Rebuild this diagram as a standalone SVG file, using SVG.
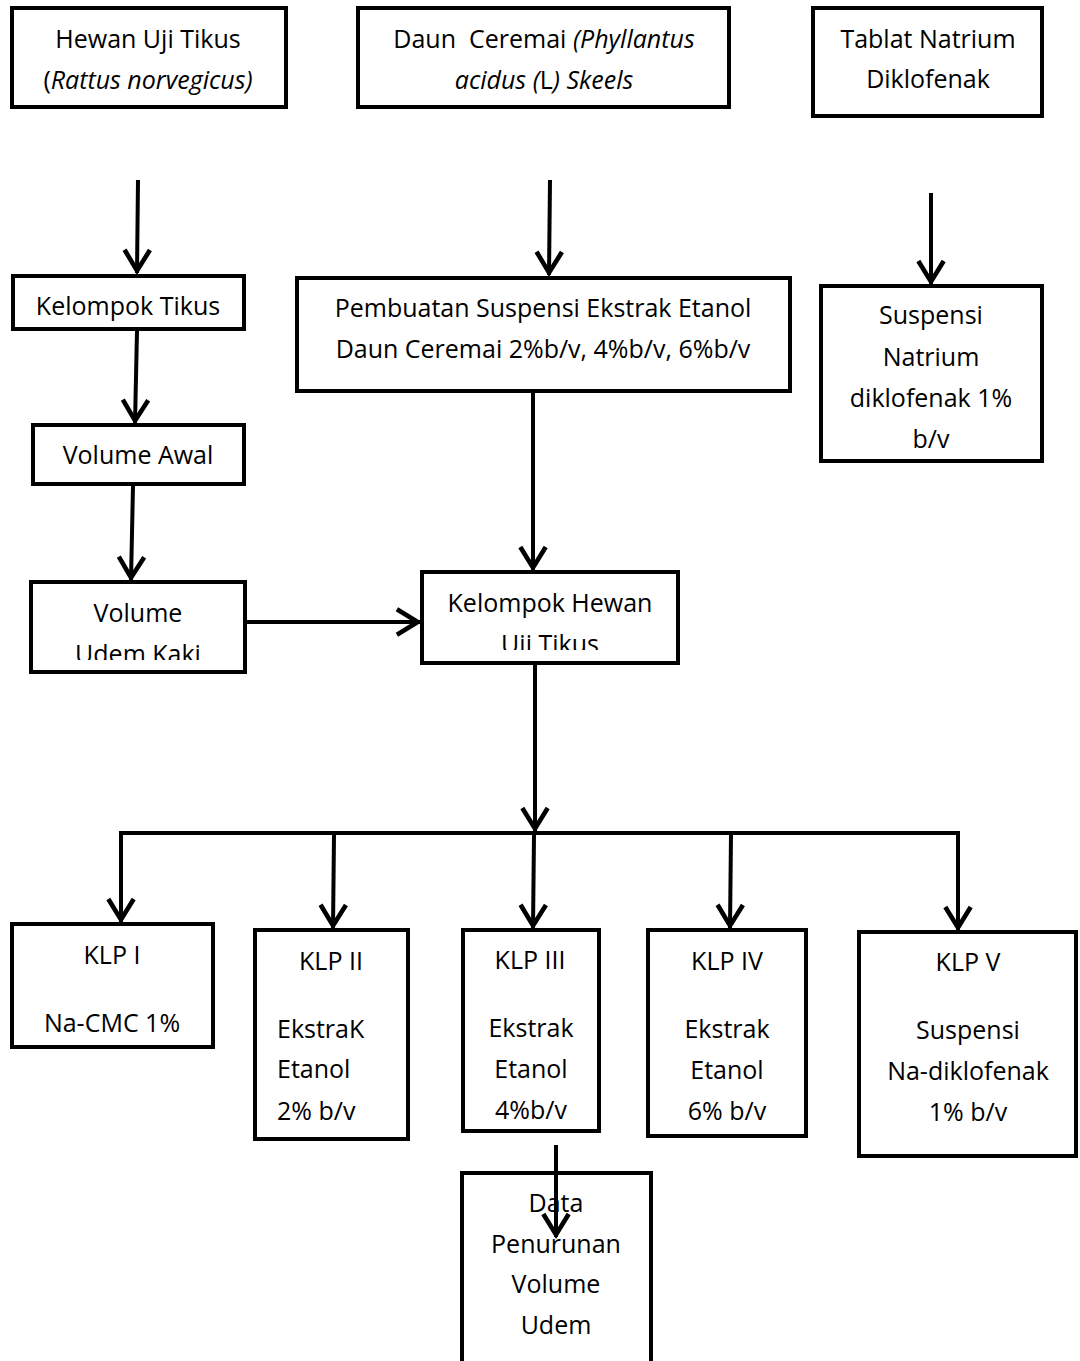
<svg xmlns="http://www.w3.org/2000/svg" width="1080" height="1361" viewBox="0 0 1080 1361">
<style>
.box{fill:#fff;stroke:#000;stroke-width:4;}
.t{font-family:"Open Sans","Noto Sans",sans-serif;font-size:25px;fill:#000;text-anchor:middle;}
.l{text-anchor:start;}
.i{font-style:italic;}
.c{fill:none;stroke:#000;stroke-width:4;}
.a{marker-end:url(#ah);}
</style>
<defs>
<marker id="ah" markerUnits="userSpaceOnUse" markerWidth="30" markerHeight="30" viewBox="0 0 26 24" refX="22" refY="12" orient="auto">
<path d="M2,1 L20,12 L2,23" fill="none" stroke="#000" stroke-width="4"/>
</marker>
<clipPath id="clipH"><rect x="0" y="560" width="300" height="100"/></clipPath>
<clipPath id="clipI"><rect x="400" y="560" width="300" height="90"/></clipPath>
</defs>
<rect width="1080" height="1361" fill="#fff"/>
<g id="n-hewan"><rect class="box" x="12" y="8" width="274" height="99"/>
<text class="t" x="148" y="48">Hewan Uji Tikus</text>
<text class="t" x="148" y="89">(<tspan class="i">Rattus norvegicus)</tspan></text></g>
<g id="n-daun"><rect class="box" x="358" y="8" width="371" height="99"/>
<text class="t" x="544" y="48" xml:space="preserve">Daun  Ceremai <tspan class="i">(Phyllantus</tspan></text>
<text class="t" x="544" y="89"><tspan class="i">acidus (</tspan>L<tspan class="i">) Skeels</tspan></text></g>
<g id="n-tablet"><rect class="box" x="813" y="8" width="229" height="108"/>
<text class="t" x="928" y="48">Tablat Natrium</text>
<text class="t" x="928" y="88">Diklofenak</text></g>
<g id="n-kelompok"><rect class="box" x="13" y="276" width="231" height="53"/>
<text class="t" x="128" y="315">Kelompok Tikus</text></g>
<g id="n-pembuatan"><rect class="box" x="297" y="278" width="493" height="113"/>
<text class="t" x="543" y="317">Pembuatan Suspensi Ekstrak Etanol</text>
<text class="t" x="543" y="358">Daun Ceremai 2%b/v, 4%b/v, 6%b/v</text></g>
<g id="n-suspensi"><rect class="box" x="821" y="286" width="221" height="175"/>
<text class="t" x="931" y="324">Suspensi</text>
<text class="t" x="931" y="366">Natrium</text>
<text class="t" x="931" y="407">diklofenak 1%</text>
<text class="t" x="931" y="448">b/v</text></g>
<g id="n-awal"><rect class="box" x="33" y="425" width="211" height="59"/>
<text class="t" x="138" y="464">Volume Awal</text></g>
<g id="n-udem"><rect class="box" x="31" y="582" width="214" height="90"/>
<g clip-path="url(#clipH)"><text class="t" x="138" y="622">Volume</text>
<text class="t" x="138" y="663">Udem Kaki</text></g></g>
<g id="n-hewanuji"><rect class="box" x="422" y="572" width="256" height="91"/>
<g clip-path="url(#clipI)"><text class="t" x="550" y="612">Kelompok Hewan</text>
<text class="t" x="550" y="653">Uji Tikus</text></g></g>
<g id="n-klp1"><rect class="box" x="12" y="924" width="201" height="123"/>
<text class="t" x="112" y="964">KLP I</text>
<text class="t" x="112" y="1032">Na-CMC 1%</text></g>
<g id="n-klp2"><rect class="box" x="255" y="930" width="153" height="209"/>
<text class="t" x="331" y="970">KLP II</text>
<text class="t l" x="277" y="1038">EkstraK</text>
<text class="t l" x="277" y="1078">Etanol</text>
<text class="t l" x="277" y="1120">2% b/v</text></g>
<g id="n-klp3"><rect class="box" x="463" y="930" width="136" height="201"/>
<text class="t" x="530" y="969">KLP III</text>
<text class="t" x="531" y="1037">Ekstrak</text>
<text class="t" x="531" y="1078">Etanol</text>
<text class="t" x="531" y="1119">4%b/v</text></g>
<g id="n-klp4"><rect class="box" x="648" y="930" width="158" height="206"/>
<text class="t" x="727" y="970">KLP IV</text>
<text class="t" x="727" y="1038">Ekstrak</text>
<text class="t" x="727" y="1079">Etanol</text>
<text class="t" x="727" y="1120">6% b/v</text></g>
<g id="n-klp5"><rect class="box" x="859" y="932" width="217" height="224"/>
<text class="t" x="968" y="971">KLP V</text>
<text class="t" x="968" y="1039">Suspensi</text>
<text class="t" x="968" y="1080">Na-diklofenak</text>
<text class="t" x="968" y="1121">1% b/v</text></g>
<g id="n-data"><rect class="box" x="462" y="1173" width="189" height="200"/>
<text class="t" x="556" y="1212">Data</text>
<text class="t" x="556" y="1253">Penurunan</text>
<text class="t" x="556" y="1293">Volume</text>
<text class="t" x="556" y="1334">Udem</text></g>
<g id="connectors">
<line class="c a" x1="138" y1="180" x2="137" y2="273"/>
<line class="c a" x1="550" y1="180" x2="549" y2="275"/>
<line class="c a" x1="931" y1="193" x2="931" y2="284"/>
<line class="c a" x1="137" y1="331" x2="135" y2="423"/>
<line class="c a" x1="133" y1="486" x2="131" y2="580"/>
<line class="c a" x1="247" y1="622" x2="420" y2="622"/>
<line class="c a" x1="533" y1="393" x2="533" y2="570"/>
<line class="c a" x1="535" y1="665" x2="535" y2="831"/>
<path class="c" d="M121,922 V833 H960" stroke-linejoin="miter"/>
<line class="c a" x1="121" y1="835" x2="121" y2="922"/>
<line class="c a" x1="334" y1="835" x2="333" y2="928"/>
<line class="c a" x1="534" y1="835" x2="533" y2="928"/>
<line class="c a" x1="731" y1="835" x2="730" y2="928"/>
<line class="c a" x1="958" y1="831" x2="958" y2="930"/>
<line class="c a" x1="556" y1="1145" x2="556" y2="1237"/>
</g>
</svg>
